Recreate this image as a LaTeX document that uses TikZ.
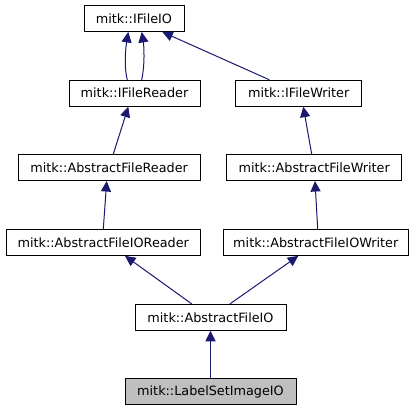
\documentclass[tikz,border=0pt]{standalone}
\usepackage{fontspec}
\setmainfont{DejaVu Sans}
\usetikzlibrary{arrows.meta}
\definecolor{edgeblue}{HTML}{191970}
\definecolor{mainfill}{HTML}{BFBFBF}
\begin{document}
\begin{tikzpicture}[x=1bp,y=-1bp,
  cls/.style={draw=black,line width=0.9bp,fill=white,minimum height=26bp,inner sep=0pt,
    font=\fontsize{12.8bp}{15bp}\selectfont},
  edge/.style={draw=edgeblue,line width=1bp,-{Triangle[length=10.5bp,width=10bp]}}]
\useasboundingbox (0,0) rectangle (419,411);
\node[cls,minimum width=100bp] (ifio) at (134,18.5) {mitk::IFileIO};
\node[cls,minimum width=131bp] (ifr) at (134.5,93.2) {mitk::IFileReader};
\node[cls,minimum width=126bp] (ifw) at (298.7,93.2) {mitk::IFileWriter};
\node[cls,minimum width=181.7bp] (afr) at (109.2,167.6) {mitk::AbstractFileReader};
\node[cls,minimum width=175bp] (afw) at (314.2,167.6) {mitk::AbstractFileWriter};
\node[cls,minimum width=193.3bp] (afior) at (103.3,242.4) {mitk::AbstractFileIOReader};
\node[cls,minimum width=185bp] (afiow) at (315.8,242.4) {mitk::AbstractFileIOWriter};
\node[cls,minimum width=151bp] (afio) at (210.5,317.3) {mitk::AbstractFileIO};
\node[cls,minimum width=171bp,fill=mainfill] (lsio) at (210.5,391.8) {mitk::LabelSetImageIO};
% edges
\draw[edge] ([xshift=-7.2bp]ifr.north) .. controls ([xshift=-11bp,yshift=15bp]ifr.north) and ([xshift=-8bp,yshift=-14bp]ifio.south) .. ([xshift=-5.7bp]ifio.south);
\draw[edge] ([xshift=7.2bp]ifr.north) .. controls ([xshift=10.5bp,yshift=15bp]ifr.north) and ([xshift=10bp,yshift=-14bp]ifio.south) .. ([xshift=7.7bp]ifio.south);
\draw[edge] ([xshift=-29.4bp]ifw.north) -- ([xshift=28.3bp]ifio.south);
\draw[edge] ([xshift=4.1bp]afr.north) -- ([xshift=-6.2bp]ifr.south);
\draw[edge] ([xshift=-2.5bp]afw.north) -- ([xshift=4.6bp]ifw.south);
\draw[edge] (afior.north) -- ([xshift=-2.5bp]afr.south);
\draw[edge] ([xshift=1.9bp]afiow.north) -- ([xshift=0.8bp]afw.south);
\draw[edge] ([xshift=-18.8bp]afio.north) -- ([xshift=21.7bp]afior.south);
\draw[edge] ([xshift=19.5bp]afio.north) -- ([xshift=-17.5bp]afiow.south);
\draw[edge] (lsio.north) -- (afio.south);
\end{tikzpicture}
\end{document}
